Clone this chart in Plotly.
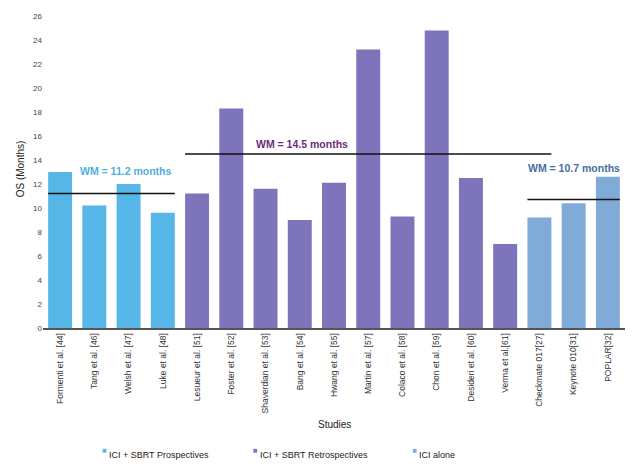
import plotly.graph_objects as go

studies = ["Formenti et al. [44]", "Tang et al. [46]", "Welsh et al. [47]", "Luke et al. [48]",
           "Lesueur et al. [51]", "Foster et al. [52]", "Shaverdian et al. [53]", "Bang et al. [54]",
           "Hwang et al. [55]", "Martin et al. [57]", "Colaco et al. [58]", "Chon et al. [59]",
           "Desideri et al. [60]", "Verma et al.[61]", "Checkmate 017[27]", "Keynote 010[31]",
           "POPLAR[32]"]
os_months = [13.0, 10.2, 12.0, 9.6,
             11.2, 18.3, 11.6, 9.0, 12.1, 23.2, 9.3, 24.8, 12.5, 7.0,
             9.2, 10.4, 12.6]
groups = ["ICI + SBRT Prospectives"] * 4 + ["ICI + SBRT Retrospectives"] * 10 + ["ICI alone"] * 3
group_names = ["ICI + SBRT Prospectives", "ICI + SBRT Retrospectives", "ICI alone"]
group_colors = ["#56B6E8", "#7E74BC", "#80AAD8"]

# weighted means: value, first/last bar index, label colour
wm_values = [11.2, 14.5, 10.7]
wm_spans = [(0, 3), (4, 13), (14, 16)]
wm_colors = ["#4FAEDF", "#6B2C7C", "#3F6F9E"]

fig = go.Figure()
for name, col in zip(group_names, group_colors):
    xs = [s for s, g in zip(studies, groups) if g == name]
    ys = [v for v, g in zip(os_months, groups) if g == name]
    fig.add_trace(go.Bar(x=xs, y=ys, name=name, marker_color=col, marker_line_width=0,
                         showlegend=False))

# label placement tweaks (category offset, height above line)
lbl_dx = [0.4, -1.43, 0.0]
lbl_dy = [1.9, 0.8, 2.6]
for i, (val, (a, b), col) in enumerate(zip(wm_values, wm_spans, wm_colors)):
    x0, x1 = a - 0.35, b + 0.35
    if i == 1:
        x1 = b + 1.35  # middle line runs on over the next bar
    fig.add_shape(type="line", xref="x", yref="y", x0=x0, x1=x1, y0=val, y1=val,
                  line=dict(color="#111111", width=1.5))
    fig.add_annotation(x=(a + b) / 2 + lbl_dx[i], y=val + lbl_dy[i],
                       xref="x", yref="y", text=f"<b>WM = {val} months</b>",
                       showarrow=False, font=dict(size=10.5, color=col))

fig.add_annotation(x=0.5, y=-0.304, xref="paper", yref="paper", text="Studies",
                   showarrow=False, font=dict(size=10, color="#222"), yanchor="middle")

# legend drawn by hand: tiny square + label
leg_x = [0.11, 0.369, 0.643]
for lx, name, col in zip(leg_x, group_names, group_colors):
    fig.add_shape(type="rect", xref="paper", yref="paper",
                  x0=lx - 0.0075, x1=lx - 0.001, y0=-0.392, y1=-0.38,
                  fillcolor=col, line_width=0)
    fig.add_annotation(x=lx, y=-0.398, xref="paper", yref="paper", text=name,
                       xanchor="left", yanchor="middle", showarrow=False,
                       font=dict(size=9, color="#222"))

# page body keeps an 8px margin, so the figure is 16px smaller than the window
fig.update_layout(
    width=624, height=453,
    margin=dict(l=35, r=7, t=2, b=133),
    paper_bgcolor="white", plot_bgcolor="white",
    barmode="relative", bargap=0.3,
    font=dict(family="Liberation Sans, Arial, sans-serif", color="#333"),
    xaxis=dict(categoryorder="array", categoryarray=studies, range=[-0.5, 16.5],
               tickangle=-90, tickfont=dict(size=8.5, color="#333"), automargin=False,
               showline=True, linecolor="#555", linewidth=1.5, ticks="", showgrid=False),
    yaxis=dict(range=[0, 26.5], dtick=2, tickfont=dict(size=8, color="#444"),
               showgrid=False, zeroline=False, showline=False, ticks="", automargin=False,
               title=dict(text="OS (Months)", font=dict(size=10, color="#222"), standoff=6)),
)

fig.write_html("out.html")
